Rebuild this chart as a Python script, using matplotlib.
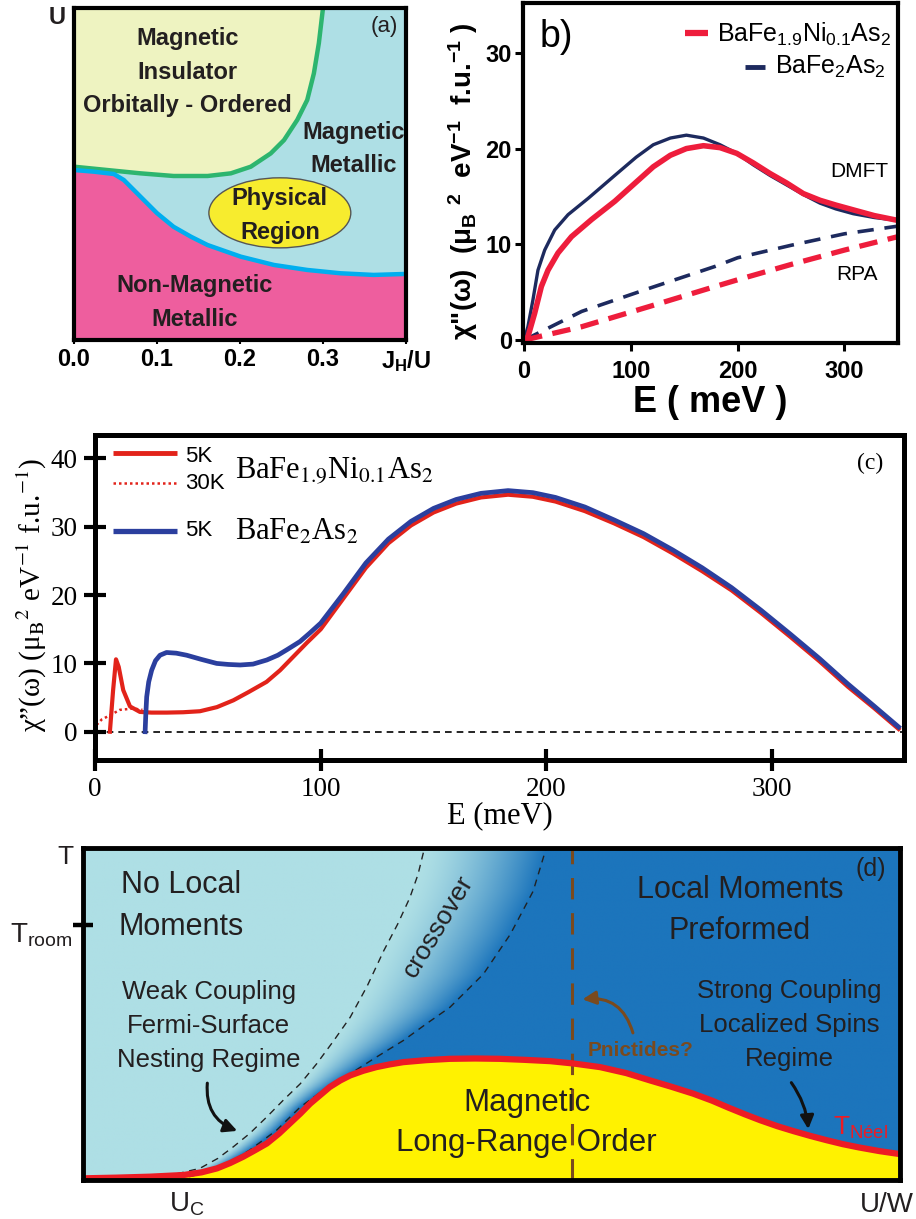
import numpy as np
import matplotlib
matplotlib.use("Agg")
import matplotlib.pyplot as plt
import matplotlib.colors as mcolors
from matplotlib.patches import Ellipse, FancyArrowPatch

plt.rcParams['font.family'] = ['Liberation Sans', 'DejaVu Sans']
plt.rcParams['mathtext.fontset'] = 'custom'
plt.rcParams['mathtext.rm'] = 'Liberation Sans'
plt.rcParams['mathtext.it'] = 'Liberation Sans:italic'
plt.rcParams['mathtext.bf'] = 'Liberation Sans:bold'

# ---------------- Panel (a) data: phase diagram U vs J_H/U ----------------
a_green_x = [0.0, 0.04, 0.08, 0.12, 0.161, 0.189, 0.213, 0.237, 0.253, 0.269, 0.281, 0.289,
             0.295, 0.30]
a_green_u = [0.522, 0.512, 0.502, 0.494, 0.494, 0.502, 0.522, 0.562, 0.602, 0.663, 0.723,
             0.803, 0.894, 1.0]
a_blue_x = [0.0, 0.024, 0.048, 0.06, 0.08, 0.10, 0.12, 0.141, 0.161, 0.201, 0.241, 0.281,
            0.321, 0.361, 0.40]
a_blue_u = [0.512, 0.507, 0.500, 0.482, 0.432, 0.382, 0.341, 0.311, 0.286, 0.251, 0.226,
            0.211, 0.201, 0.196, 0.199]
a_phys_center = (0.248, 0.383)
a_phys_size = (0.171, 0.211)
a_xticks = [0.0, 0.1, 0.2, 0.3, 0.4]
a_xticklabels = ['0.0', '0.1', '0.2', '0.3', r'J$_\mathbf{H}$/U']
a_regions = ["Magnetic\nInsulator\nOrbitally - Ordered", "Magnetic\nMetallic",
             "Physical\nRegion", "Non-Magnetic\nMetallic"]

# ---------------- Panel (b) data: DMFT / RPA chi'' ----------------
b_ni_E = [0, 3.6, 9.9, 16.2, 22.4, 31.8, 44.4, 63.3, 85, 105, 121, 137, 152, 168,
          183.5, 199.2, 214.7, 230.3, 246, 261.5, 277.2, 292, 308.3, 328, 350]
b_ni_chi = [0, 0.35, 2.8, 5.6, 7.3, 9.1, 10.8, 12.6, 14.5, 16.5, 18.1, 19.3, 20.0, 20.3,
            20.1, 19.5, 18.5, 17.4, 16.4, 15.3, 14.6, 14.1, 13.6, 13.0, 12.5]
b_ba_E = [0, 3.6, 8.3, 13, 19.3, 28.7, 41.2, 60, 85, 105, 121, 137, 152, 168,
          183.5, 199.2, 214.7, 230.3, 246, 261.5, 277.2, 292, 308.3, 328, 350]
b_ba_chi = [0, 1.4, 4.2, 7.3, 9.4, 11.5, 13.1, 14.8, 17.2, 19.1, 20.4, 21.1, 21.4, 21.1,
            20.4, 19.5, 18.3, 17.2, 16.2, 15.2, 14.3, 13.7, 13.2, 12.8, 12.5]
b_rpa_E = [0, 54, 117, 179, 200, 250, 300, 350]
b_rpa_ni = [0, 1.4, 3.5, 5.6, 6.3, 7.9, 9.4, 10.8]
b_rpa_ba = [0, 3.0, 5.4, 7.7, 8.6, 9.9, 11.1, 11.9]
b_xticks = [0, 100, 200, 300]
b_yticks = [0, 10, 20, 30]

# ---------------- Panel (c) data: chi'' 5K / 30K ----------------
c_ni5_E = [6.6, 8.0, 9.3, 10.5, 12.5, 15.5, 19.9, 25, 31.8, 39, 46.5, 54, 61.3, 68, 76, 82,
           87.9, 93.8, 100, 110, 120, 130, 140, 150, 160, 171, 183, 194, 204, 217, 230, 243,
           256, 269, 282, 295, 308, 321, 333.5, 345, 356]
c_ni5_chi = [0, 6.0, 10.6, 9.5, 6.1, 3.7, 2.9, 2.8, 2.8, 2.85, 3.0, 3.6, 4.6, 5.8, 7.3, 9.0,
             11.0, 13.0, 15.0, 19.5, 24.0, 27.6, 30.2, 32.1, 33.4, 34.3, 34.7, 34.4, 33.7, 32.3,
             30.5, 28.5, 26.1, 23.5, 20.7, 17.4, 13.9, 10.3, 6.6, 3.5, 0.4]
c_ni30_E = [0.7, 3, 6.6, 11, 17, 21]
c_ni30_chi = [1.0, 1.8, 2.4, 3.2, 3.4, 3.2]
c_ba5_E = [22.2, 22.5, 22.9, 23.8, 25.1, 26.8, 28.8, 31.7, 36, 40.6, 47, 53.9, 59, 64.3, 70,
           76.1, 81, 85, 90.8, 95, 100, 110, 120, 130, 140, 150, 160, 171, 183, 194, 204, 217,
           230, 243, 256, 269, 282, 295, 308, 321, 333.5, 345, 356]
c_ba5_chi = [0, 2.5, 5.1, 7.3, 9.0, 10.4, 11.2, 11.6, 11.5, 11.2, 10.6, 10.0, 9.85, 9.77, 9.9,
             10.5, 11.2, 12.0, 13.2, 14.4, 15.9, 20.2, 24.7, 28.2, 30.8, 32.7, 34.0, 34.9, 35.3,
             35.0, 34.3, 32.9, 31.0, 29.0, 26.6, 24.0, 21.1, 17.8, 14.3, 10.7, 7.0, 3.8, 0.7]
c_xticks = [0, 100, 200, 300]
c_yticks = [0, 10, 20, 30, 40]

# ---------------- Panel (d) data: schematic T vs U/W ----------------
d_tn_x = [0, 0.04, 0.082, 0.123, 0.145, 0.164, 0.18, 0.196, 0.21, 0.225, 0.24, 0.253, 0.266,
          0.278, 0.29, 0.302, 0.315, 0.327, 0.343, 0.359, 0.375, 0.392, 0.42, 0.449, 0.48,
          0.510, 0.54, 0.572, 0.60, 0.633, 0.665, 0.694, 0.72, 0.747, 0.77, 0.79, 0.81,
          0.829, 0.85, 0.87, 0.89, 0.910, 0.93, 0.95, 0.975, 1.0]
d_tn_y = [0.005, 0.007, 0.01, 0.015, 0.023, 0.035, 0.051, 0.07, 0.089, 0.11, 0.14, 0.17,
          0.20, 0.23, 0.255, 0.28, 0.30, 0.315, 0.329, 0.34, 0.348, 0.355, 0.361, 0.365,
          0.366, 0.365, 0.362, 0.358, 0.351, 0.34, 0.322, 0.30, 0.281, 0.26, 0.239, 0.218,
          0.198, 0.18, 0.162, 0.147, 0.133, 0.12, 0.108, 0.098, 0.087, 0.078]
d_left_x = [0.10, 0.143, 0.165, 0.184, 0.204, 0.225, 0.245, 0.266, 0.286, 0.307, 0.327,
            0.348, 0.368, 0.385, 0.400, 0.41, 0.418]
d_left_y = [0.01, 0.035, 0.065, 0.10, 0.14, 0.19, 0.24, 0.29, 0.35, 0.42, 0.49, 0.585,
            0.69, 0.77, 0.85, 0.92, 1.0]
d_right_x = [0.13, 0.164, 0.204, 0.237, 0.266, 0.294, 0.327, 0.359, 0.392, 0.42, 0.449,
             0.49, 0.523, 0.551, 0.567]
d_right_y = [0.01, 0.03, 0.09, 0.15, 0.22, 0.27, 0.32, 0.37, 0.42, 0.47, 0.52, 0.62, 0.74,
             0.87, 1.0]
d_pnictide_x = 0.598
d_troom = 0.769

# ---------------- colours ----------------
A_YEL, A_CYAN, A_PINK = '#EEF3C1', '#AEDFE5', '#EE5E9E'
A_GREEN, A_BLUE = '#2DB56F', '#00AEEF'
B_RED, B_NAVY = '#EE1D3C', '#1D2A5E'
C_RED, C_BLUE = '#E2231A', '#2B3F9E'
D_CYAN, D_BLUE, D_YEL, D_RED, D_BROWN = '#AEDFE5', '#1C75BC', '#FFF200', '#ED1C24', '#7A4A1E'

W, H = 916, 1219
fig = plt.figure(figsize=(W / 100, H / 100), dpi=100)


def box(l, t, r, b):
    return [l / W, 1 - b / H, (r - l) / W, (b - t) / H]


def heavy_spines(ax, lw):
    for s in ax.spines.values():
        s.set_linewidth(lw)
        s.set_zorder(10)


# ================= Panel (a) =================
axA = fig.add_axes(box(74, 8, 406, 340))
axA.set_xlim(0, 0.4)
axA.set_ylim(0, 1)
axA.set_facecolor(A_CYAN)
axA.fill_between(a_green_x, a_green_u, 1, color=A_YEL, lw=0, zorder=1)
axA.fill_between(a_blue_x, 0, a_blue_u, color=A_PINK, lw=0, zorder=1)
axA.plot(a_green_x, a_green_u, color=A_GREEN, lw=3.2, zorder=3)
axA.plot(a_blue_x, a_blue_u, color=A_BLUE, lw=3.2, zorder=3)
axA.add_patch(Ellipse(a_phys_center, a_phys_size[0], a_phys_size[1], facecolor='#F7EC2E',
                      edgecolor='#555555', lw=1.0, zorder=4))
ta = dict(ha='center', va='center', fontsize=17, fontweight='bold', color='#231F20',
          linespacing=1.6, zorder=6)
axA.text(0.137, 0.807, a_regions[0], **ta)
axA.text(0.337, 0.575, a_regions[1], **ta)
axA.text(a_phys_center[0], a_phys_center[1] - 0.008, a_regions[2], **ta)
axA.text(0.145, 0.114, a_regions[3], **ta)
axA.set_xticks(a_xticks, a_xticklabels, fontweight='bold', fontsize=17)
axA.set_yticks([])
axA.tick_params(axis='x', direction='out', length=3, width=1.5, pad=2.5)
axA.text(-0.051, 0.97, 'U', transform=axA.transAxes, ha='center', va='center',
         fontsize=17, fontweight='bold', color='#231F20')
axA.text(0.934, 0.943, '(a)', transform=axA.transAxes, ha='center', va='center',
         fontsize=16, color='#231F20')
heavy_spines(axA, 3.0)

# ================= Panel (b) =================
axB = fig.add_axes(box(523, 3, 898, 343))
axB.set_xlim(-1, 350.2)
axB.set_ylim(-0.3, 35.2)
axB.plot(b_rpa_E, b_rpa_ba, color=B_NAVY, lw=2.6, dashes=(4.5, 3), zorder=3)
axB.plot(b_rpa_E, b_rpa_ni, color=B_RED, lw=3.8, dashes=(3.5, 2), zorder=3)
axB.plot(b_ba_E, b_ba_chi, color=B_NAVY, lw=2.4, zorder=4)
axB.plot(b_ni_E, b_ni_chi, color=B_RED, lw=4.0, zorder=5)
axB.set_xticks(b_xticks, [str(v) for v in b_xticks], fontweight='bold', fontsize=17)
axB.set_yticks(b_yticks, [str(v) for v in b_yticks], fontweight='bold', fontsize=17)
axB.tick_params(axis='both', direction='out', length=6, width=2.2)
axB.tick_params(axis='x', pad=6)
axB.tick_params(axis='y', pad=2)
# legend (manual)
axB.plot([0.432, 0.493], [0.912, 0.912], transform=axB.transAxes, color=B_RED, lw=4.5,
         solid_capstyle='butt')
axB.text(0.517, 0.909, r'BaFe$_{1.9}$Ni$_{0.1}$As$_{2}$', transform=axB.transAxes,
         ha='left', va='center', fontsize=18)
axB.plot([0.592, 0.645], [0.812, 0.812], transform=axB.transAxes, color=B_NAVY, lw=3.5,
         solid_capstyle='butt')
axB.text(0.672, 0.813, r'BaFe$_{2}$As$_{2}$', transform=axB.transAxes,
         ha='left', va='center', fontsize=18)
axB.text(0.088, 0.9, 'b)', transform=axB.transAxes, ha='center', va='center', fontsize=27)
axB.text(0.897, 0.504, 'DMFT', transform=axB.transAxes, ha='center', va='center', fontsize=15)
axB.text(0.891, 0.20, 'RPA', transform=axB.transAxes, ha='center', va='center', fontsize=15)
axB.text(-0.16, 0.476,
         r'χ"(ω)  (μ$_\mathbf{B}$ $^\mathbf{2}$  eV$^\mathbf{-1}$  f.u.$^\mathbf{-1}$ )',
         transform=axB.transAxes, rotation=90, ha='center', va='center', fontsize=20,
         fontweight='bold')
axB.text(0.5, -0.176, 'E ( meV )', transform=axB.transAxes, ha='center', va='center',
         fontsize=26, fontweight='bold')
heavy_spines(axB, 3.0)

# ================= Panel (c) =================
SERIF = 'Liberation Serif'
axC = fig.add_axes(box(95, 435, 904, 760))
axC.set_xlim(0, 358.4)
axC.set_ylim(-4.14, 43.44)
axC.axhline(0, color='black', lw=1.2, dashes=(4, 3), zorder=2)
axC.plot(c_ni30_E, c_ni30_chi, color=C_RED, lw=1.8, linestyle=(0, (1, 1.2)), zorder=3)
axC.plot(c_ni5_E, c_ni5_chi, color=C_RED, lw=3.0, zorder=4)
axC.plot(c_ba5_E, c_ba5_chi, color=C_BLUE, lw=3.4, zorder=5)
axC.set_xticks(c_xticks, [str(v) for v in c_xticks])
axC.set_yticks(c_yticks, [str(v) for v in c_yticks])
axC.tick_params(axis='both', direction='inout', length=16, width=3, pad=4.5,
                labelsize=19.5, labelfontfamily=SERIF)
# legend (manual)
axC.plot([0.022, 0.101], [0.945, 0.945], transform=axC.transAxes, color=C_RED, lw=3.5,
         solid_capstyle='butt')
axC.plot([0.022, 0.101], [0.852, 0.852], transform=axC.transAxes, color=C_RED, lw=1.8,
         linestyle=(0, (1, 1.2)))
axC.plot([0.022, 0.101], [0.705, 0.705], transform=axC.transAxes, color=C_BLUE, lw=3.8,
         solid_capstyle='butt')
axC.text(0.111, 0.935, '5K', transform=axC.transAxes, ha='left', va='center', fontsize=16)
axC.text(0.111, 0.852, '30K', transform=axC.transAxes, ha='left', va='center', fontsize=16)
axC.text(0.111, 0.705, '5K', transform=axC.transAxes, ha='left', va='center', fontsize=16)
axC.text(0.173, 0.868, r'BaFe$_{1.9}$Ni$_{0.1}$As$_{2}$', transform=axC.transAxes,
         ha='left', va='baseline', fontsize=22, family=SERIF, math_fontfamily='stix')
axC.text(0.173, 0.677, r'BaFe$_{2}$As$_{2}$', transform=axC.transAxes,
         ha='left', va='baseline', fontsize=22, family=SERIF, math_fontfamily='stix')
axC.text(0.958, 0.911, '(c)', transform=axC.transAxes, ha='center', va='center',
         fontsize=17, family=SERIF)
axC.text(-0.078, 0.508,
         '\u03c7\u201d(\u03c9) (\u03bc$_\\mathrm{B}$$^2$ eV$^{-1}$ f.u.$^{-1}$)',
         transform=axC.transAxes, rotation=90, ha='center', va='center', fontsize=21,
         family=SERIF, math_fontfamily='stix')
axC.text(0.5, -0.172, 'E (meV)', transform=axC.transAxes, ha='center', va='center',
         fontsize=22, family=SERIF)
heavy_spines(axC, 3.6)

# ================= Panel (d) =================
axD = fig.add_axes(box(83, 848, 900, 1180))
nx, ny = 900, 400
gx = np.linspace(0, 1, nx)
gy = np.linspace(0, 1, ny)
GX, GY = np.meshgrid(gx, gy)
xl = np.interp(GY, d_left_y, d_left_x)
xr = np.interp(GY, d_right_y, d_right_x)
tt = np.clip((GX - xl) / np.maximum(xr - xl, 1e-3), 0, 1) ** 1.4
c0 = np.array(mcolors.to_rgb(D_CYAN))
c1 = np.array(mcolors.to_rgb(D_BLUE))
img = c0 * (1 - tt[..., None]) + c1 * tt[..., None]
axD.imshow(img, extent=(0, 1, 0, 1), origin='lower', aspect='auto',
           interpolation='bilinear', zorder=0)
axD.set_xlim(0, 1)
axD.set_ylim(0, 1)
axD.fill_between(d_tn_x, 0, d_tn_y, color=D_YEL, lw=0, zorder=2)
axD.plot(d_left_x, d_left_y, color='#222222', lw=1.0, dashes=(5, 4), zorder=3)
axD.plot(d_right_x, d_right_y, color='#222222', lw=1.0, dashes=(5, 4), zorder=3)
axD.axvline(d_pnictide_x, color=D_BROWN, lw=2.2, dashes=(7, 4.5), zorder=3.5)
axD.plot(d_tn_x, d_tn_y, color=D_RED, lw=4.5, zorder=4, solid_capstyle='butt')
axD.set_xticks([])
axD.set_yticks([d_troom], [''])
axD.tick_params(axis='y', direction='inout', length=14.4, width=3.2)

TXT = '#231F20'
axD.text(0.12, 0.826, 'No Local\nMoments', ha='center', va='center', fontsize=22,
         linespacing=1.5, color=TXT, zorder=6)
axD.text(0.804, 0.811, 'Local Moments\nPreformed', ha='center', va='center', fontsize=22,
         linespacing=1.5, color=TXT, zorder=6)
axD.text(0.154, 0.465, 'Weak Coupling\nFermi-Surface\nNesting Regime', ha='center',
         va='center', fontsize=18.5, linespacing=1.52, color=TXT, zorder=6)
axD.text(0.865, 0.468, 'Strong Coupling\nLocalized Spins\nRegime', ha='center',
         va='center', fontsize=18.5, linespacing=1.52, color=TXT, zorder=6)
axD.text(0.543, 0.171, 'Magnetic\nLong-Range Order', ha='center', va='center',
         fontsize=22.5, linespacing=1.42, color=TXT, zorder=6)
axD.text(0.435, 0.765, 'crossover', ha='center', va='center', rotation=59,
         rotation_mode='anchor', fontsize=19, color=TXT, zorder=6)
axD.text(0.682, 0.39, 'Pnictides?', ha='center', va='center', fontsize=15,
         fontweight='bold', color=D_BROWN, zorder=6)
axD.text(0.918, 0.135, r'T$_{\mathrm{Néel}}$', ha='left', va='baseline', fontsize=19,
         color=D_RED, zorder=6)
axD.text(0.9645, 0.937, '(d)', ha='center', va='center', fontsize=18, color=TXT, zorder=6)

arrow_kw = dict(arrowstyle='-|>', mutation_scale=20, lw=2.2, zorder=6,
                transform=axD.transAxes)
axD.add_patch(FancyArrowPatch((0.1525, 0.30), (0.192, 0.145),
                              connectionstyle='arc3,rad=0.4', color='#111111', **arrow_kw))
axD.add_patch(FancyArrowPatch((0.865, 0.30), (0.888, 0.145),
                              connectionstyle='arc3,rad=-0.15', color='#111111', **arrow_kw))
axD.add_patch(FancyArrowPatch((0.674, 0.435), (0.608, 0.543),
                              connectionstyle='arc3,rad=0.45', color=D_BROWN, **arrow_kw))

axD.text(-0.022, 0.951, 'T', transform=axD.transAxes, ha='center', va='baseline',
         fontsize=19, color=TXT)
axD.text(-0.0135, 0.716, r'T$_{\mathrm{room}}$', transform=axD.transAxes, ha='right',
         va='baseline', fontsize=20, color=TXT)
axD.text(0.127, -0.095, r'U$_{\mathrm{C}}$', transform=axD.transAxes, ha='center',
         va='baseline', fontsize=20, color=TXT)
axD.text(1.017, -0.095, 'U/W', transform=axD.transAxes, ha='right', va='baseline',
         fontsize=20, color=TXT)
heavy_spines(axD, 3.5)

fig.savefig('out.png', dpi=100)
